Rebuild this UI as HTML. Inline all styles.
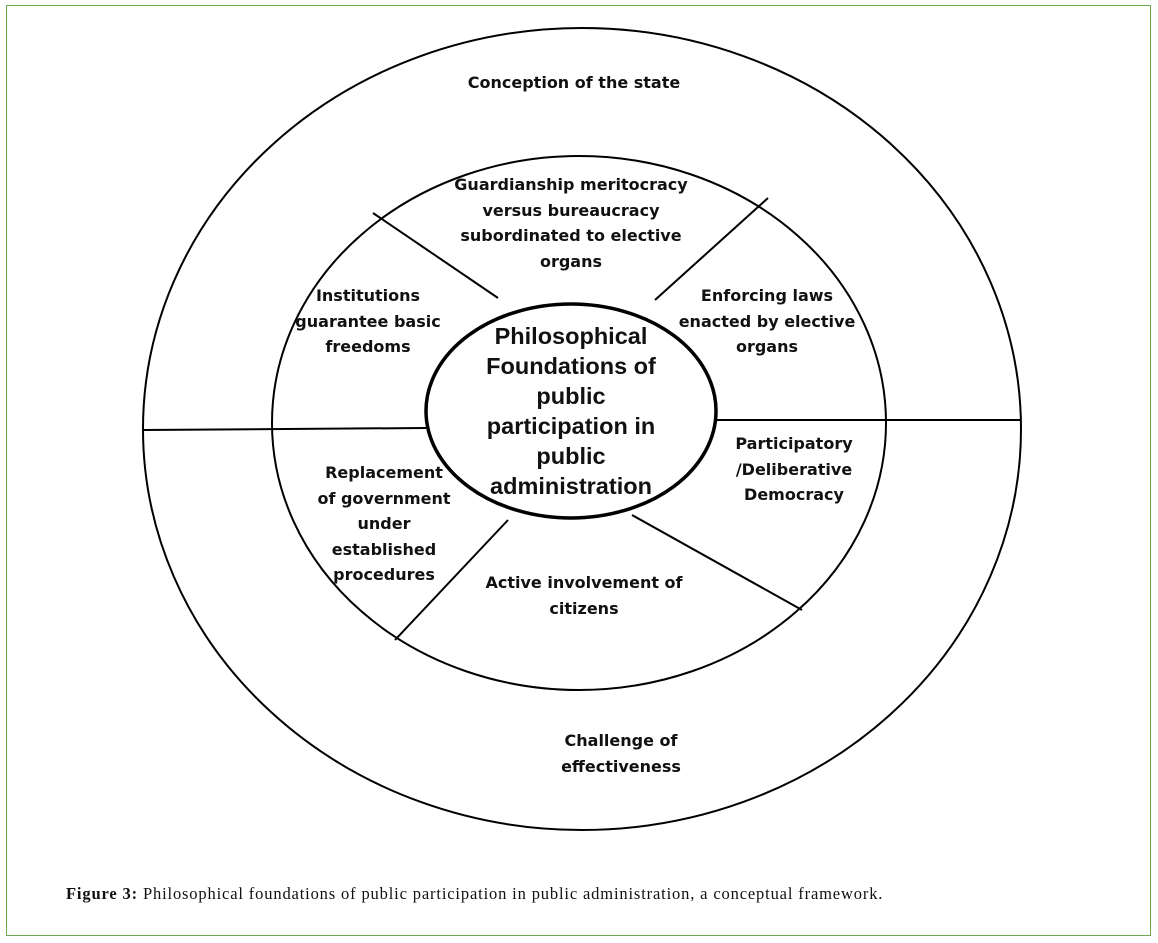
<!DOCTYPE html>
<html><head><meta charset="utf-8"><style>
html,body{margin:0;padding:0;background:#fff;}
body{width:1158px;height:943px;position:relative;overflow:hidden;}
.frame{position:absolute;left:6px;top:5px;width:1145px;height:931px;border:1.5px solid #70a84f;box-sizing:border-box;}
svg{position:absolute;left:0;top:0;}
.t{font-family:"DejaVu Sans","Liberation Sans",sans-serif;font-weight:bold;font-size:16px;fill:#111;}
.c{font-family:"Liberation Sans",sans-serif;font-weight:bold;font-size:23.5px;fill:#111;}
.cap{position:absolute;left:66px;top:884px;font-family:"Liberation Serif",serif;font-size:16.5px;letter-spacing:0.85px;color:#111;white-space:nowrap;}
</style></head><body>
<div class="frame"></div>
<svg width="1158" height="943">
<g fill="none" stroke="#000" stroke-width="2">
<ellipse cx="582" cy="429" rx="439" ry="401"/>
<ellipse cx="579" cy="423" rx="307" ry="267"/>
<line x1="143" y1="430" x2="426" y2="428"/>
<line x1="716" y1="420" x2="1021" y2="420"/>
<line x1="373" y1="213" x2="498" y2="298"/>
<line x1="768" y1="198" x2="655" y2="300"/>
<line x1="508" y1="520" x2="395" y2="640"/>
<line x1="632" y1="515" x2="802" y2="610"/>
<ellipse cx="571" cy="411" rx="145" ry="107" stroke-width="3.5" fill="#fff"/>
</g>
<g class="t" text-anchor="middle">
<text x="574" y="88">Conception of the state</text>
<text x="571" y="190">Guardianship meritocracy</text>
<text x="571" y="216">versus bureaucracy</text>
<text x="571" y="241">subordinated to elective</text>
<text x="571" y="267">organs</text>
<text x="368" y="301">Institutions</text>
<text x="368" y="327">guarantee basic</text>
<text x="368" y="352">freedoms</text>
<text x="767" y="301">Enforcing laws</text>
<text x="767" y="327">enacted by elective</text>
<text x="767" y="352">organs</text>
<text x="794" y="449">Participatory</text>
<text x="794" y="475">/Deliberative</text>
<text x="794" y="500">Democracy</text>
<text x="384" y="478">Replacement</text>
<text x="384" y="504">of government</text>
<text x="384" y="529">under</text>
<text x="384" y="555">established</text>
<text x="384" y="580">procedures</text>
<text x="584" y="588">Active involvement of</text>
<text x="584" y="614">citizens</text>
<text x="621" y="746">Challenge of</text>
<text x="621" y="772">effectiveness</text>
</g>
<g class="c" text-anchor="middle">
<text x="571" y="344">Philosophical</text>
<text x="571" y="374">Foundations of</text>
<text x="571" y="404">public</text>
<text x="571" y="434">participation in</text>
<text x="571" y="464">public</text>
<text x="571" y="494">administration</text>
</g>
</svg>
<div class="cap"><b>Figure 3:</b> Philosophical foundations of public participation in public administration, a conceptual framework.</div>
</body></html>
